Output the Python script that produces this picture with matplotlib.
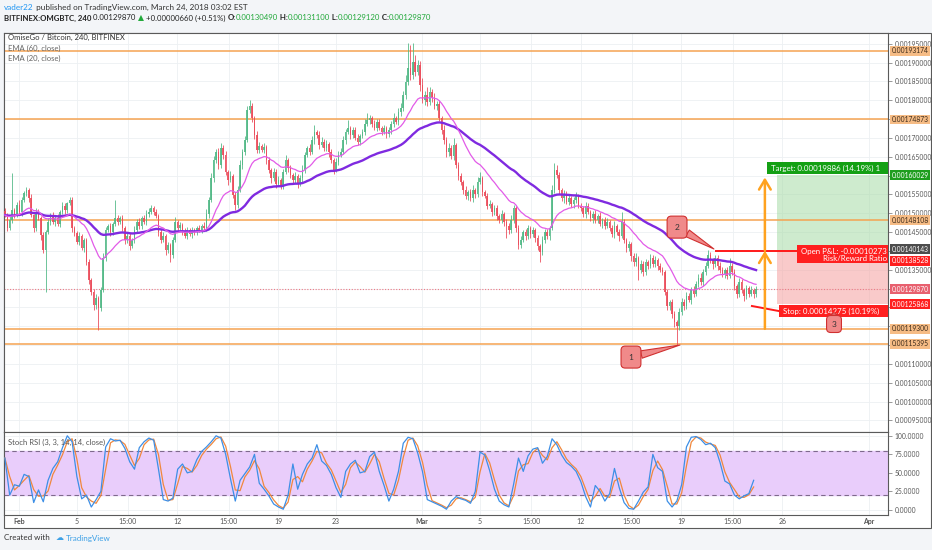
import numpy as np
import pandas as pd
import matplotlib
matplotlib.use("Agg")
import matplotlib.pyplot as plt
from matplotlib.patches import Rectangle

W, H = 932, 550
plt.rcParams['font.family'] = ['Lato', 'DejaVu Sans']

# ---- data (prices in 1e-6 BTC, 4h candles from Jan 31) ----
first_open = 1505
closes = [
    1495, 1461, 1482, 1508, 1498, 1522, 1503, 1535, 1554, 1562,
    1540, 1495, 1461, 1503, 1487, 1442, 1402, 1450, 1477, 1495,
    1477, 1487, 1471, 1503, 1519, 1508, 1527, 1535, 1461, 1447,
    1424, 1439, 1408, 1429, 1370, 1323, 1291, 1256, 1275, 1248,
    1296, 1381, 1455, 1466, 1450, 1471, 1487, 1477, 1487, 1461,
    1429, 1439, 1413, 1429, 1455, 1477, 1466, 1487, 1477, 1498,
    1503, 1514, 1503, 1493, 1450, 1429, 1439, 1402, 1416, 1389,
    1429, 1477, 1461, 1469, 1450, 1439, 1455, 1445, 1455, 1450,
    1461, 1455, 1466, 1461, 1498, 1535, 1593, 1641, 1662, 1628,
    1673, 1655, 1609, 1588, 1599, 1548, 1522, 1562, 1628, 1662,
    1694, 1774, 1785, 1753, 1708, 1668, 1678, 1668, 1676, 1641,
    1615, 1593, 1609, 1578, 1588, 1572, 1609, 1641, 1620, 1601,
    1588, 1599, 1578, 1593, 1615, 1655, 1673, 1662, 1694, 1716,
    1708, 1681, 1689, 1673, 1684, 1662, 1641, 1615, 1636, 1655,
    1662, 1694, 1716, 1726, 1708, 1721, 1700, 1689, 1705, 1716,
    1737, 1747, 1753, 1737, 1726, 1742, 1726, 1716, 1726, 1710,
    1721, 1737, 1753, 1742, 1769, 1779, 1814, 1848, 1886, 1867,
    1901, 1875, 1893, 1840, 1801, 1814, 1795, 1822, 1806, 1785,
    1790, 1753, 1721, 1694, 1662, 1673, 1652, 1681, 1628, 1599,
    1583, 1562, 1546, 1556, 1540, 1562, 1551, 1583, 1593, 1556,
    1546, 1519, 1524, 1503, 1514, 1493, 1482, 1498, 1477, 1466,
    1455, 1482, 1514, 1461, 1416, 1429, 1450, 1439, 1461, 1445,
    1455, 1434, 1413, 1397, 1429, 1450, 1439, 1461, 1562, 1615,
    1601, 1562, 1540, 1551, 1530, 1540, 1524, 1535, 1546, 1519,
    1514, 1498, 1519, 1503, 1487, 1498, 1482, 1493, 1471, 1482,
    1466, 1477, 1461, 1445, 1466, 1450, 1439, 1477, 1429, 1408,
    1418, 1386, 1370, 1381, 1349, 1365, 1344, 1370, 1360, 1381,
    1365, 1376, 1360, 1349, 1344, 1291, 1254, 1264, 1232, 1211,
    1200, 1238, 1264, 1254, 1280, 1270, 1296, 1285, 1312, 1328,
    1317, 1344, 1360, 1389, 1376, 1365, 1381, 1360, 1349, 1339,
    1349, 1333, 1360, 1344, 1307, 1285, 1317, 1296, 1280, 1301,
    1285, 1296, 1285, 1298.7,
]
upper_wick = [
    8, 5, 10, 99, 6, 9, 12, 7, 5, 8,
    6, 10, 4, 12, 7, 5, 9, 6, 11, 5,
    8, 6, 10, 5, 12, 7, 4, 8, 9, 6,
    5, 11, 7, 6, 4, 9, 5, 8, 10, 6,
    7, 12, 9, 5, 8, 6, 48, 7, 5, 9,
    6, 10, 8, 5, 12, 7, 9, 6, 8, 10,
    12, 7, 5, 9, 6, 8, 10, 5, 7, 6,
    9, 14, 6, 8, 5, 10, 7, 6, 9, 5,
    6, 8, 5, 10, 12, 9, 14, 11, 8, 10,
    13, 7, 9, 6, 12, 5, 8, 10, 14, 9,
    12, 10, 15, 8, 6, 9, 11, 7, 10, 5,
    8, 6, 12, 7, 10, 5, 9, 14, 6, 8,
    7, 10, 5, 9, 12, 8, 6, 11, 10, 18,
    6, 9, 12, 7, 10, 5, 8, 6, 11, 9,
    10, 12, 8, 21, 6, 9, 7, 10, 5, 8,
    12, 19, 8, 6, 10, 7, 9, 5, 8, 6,
    9, 7, 12, 6, 10, 14, 11, 18, 66, 60,
    51, 20, 15, 12, 18, 10, 22, 14, 9, 12,
    8, 10, 6, 12, 7, 14, 9, 18, 6, 8,
    7, 5, 9, 6, 8, 12, 6, 14, 16, 7,
    6, 8, 10, 5, 9, 7, 6, 10, 5, 8,
    7, 12, 9, 5, 8, 10, 6, 9, 7, 5,
    8, 6, 9, 5, 10, 7, 9, 6, 14, 18,
    12, 8, 6, 10, 7, 9, 5, 8, 10, 6,
    9, 6, 10, 7, 5, 8, 10, 6, 9, 5,
    7, 10, 6, 8, 12, 5, 9, 26, 7, 6,
    9, 6, 8, 12, 5, 10, 7, 9, 6, 11,
    8, 10, 6, 9, 7, 5, 8, 6, 9, 7,
    6, 9, 12, 8, 10, 7, 9, 11, 8, 10,
    12, 9, 10, 13, 8, 6, 9, 7, 10, 8,
    6, 9, 21, 8, 7, 5, 10, 8, 6, 9,
    7, 10, 6, 8,
]
lower_wick = [
    6, 9, 5, 8, 12, 7, 5, 10, 6, 8,
    9, 5, 10, 7, 6, 12, 8, 111, 6, 9,
    7, 10, 5, 8, 6, 9, 7, 5, 12, 8,
    6, 9, 7, 10, 8, 12, 9, 14, 10, 58,
    8, 6, 9, 5, 10, 7, 6, 8, 5, 9,
    10, 7, 12, 6, 8, 5, 9, 7, 6, 8,
    7, 5, 9, 6, 10, 8, 6, 12, 7, 19,
    8, 6, 10, 7, 9, 5, 8, 6, 10, 7,
    9, 6, 8, 5, 7, 10, 6, 9, 8, 12,
    7, 10, 8, 12, 6, 9, 14, 8, 6, 10,
    8, 6, 9, 12, 10, 7, 9, 6, 8, 11,
    9, 12, 7, 10, 6, 9, 8, 5, 10, 7,
    10, 8, 12, 6, 9, 7, 5, 8, 6, 9,
    8, 10, 6, 9, 7, 12, 8, 10, 6, 9,
    7, 6, 9, 5, 10, 8, 6, 9, 7, 5,
    8, 6, 10, 7, 5, 9, 6, 8, 7, 10,
    9, 12, 7, 6, 8, 10, 7, 12, 9, 14,
    10, 12, 8, 15, 9, 14, 10, 8, 12, 9,
    10, 8, 12, 9, 14, 10, 8, 12, 9, 10,
    8, 12, 9, 10, 7, 9, 12, 8, 6, 10,
    7, 9, 6, 10, 8, 12, 7, 9, 10, 32,
    9, 7, 8, 12, 10, 8, 6, 9, 7, 10,
    8, 10, 12, 27, 9, 7, 8, 10, 6, 9,
    7, 10, 8, 12, 6, 9, 7, 10, 8, 6,
    9, 7, 10, 6, 8, 12, 7, 9, 6, 10,
    8, 6, 9, 7, 10, 8, 12, 6, 9, 10,
    8, 12, 10, 9, 26, 8, 10, 7, 9, 6,
    8, 7, 10, 6, 9, 8, 12, 10, 9, 14,
    50, 10, 8, 12, 9, 7, 10, 8, 6, 9,
    7, 10, 8, 6, 9, 12, 7, 10, 8, 9,
    10, 8, 6, 9, 12, 10, 8, 9, 14, 7,
    8, 6, 10, 7,
]
# Stoch RSI %K, one value every 8 hours
stoch_k = [
    70, 20, 34, 32, 48, 45, 10, 27, 11, 40,
    56, 65, 84, 100, 92, 45, 15, 20, 4, 14,
    25, 85, 96, 93, 94, 83, 65, 55, 84, 92,
    97, 94, 55, 14, 12, 16, 55, 62, 50, 52,
    68, 79, 85, 92, 100, 97, 75, 42, 12, 40,
    49, 58, 75, 36, 28, 19, 8, 4, 1, 20,
    62, 28, 48, 62, 70, 88, 66, 60, 48, 30,
    17, 52, 62, 67, 50, 52, 72, 78, 52, 33,
    12, 28, 52, 90, 98, 96, 77, 52, 14, 11,
    8, 5, 1, 12, 18, 15, 13, 9, 25, 78,
    74, 53, 28, 12, 7, 4, 35, 70, 52, 73,
    82, 84, 63, 72, 96, 88, 74, 64, 59, 52,
    38, 18, 4, 33, 25, 12, 22, 56, 30, 10,
    2, 1, 12, 24, 31, 75, 57, 52, 12, 4,
    12, 34, 85, 98, 99, 95, 88, 90, 84, 64,
    39, 35, 20, 15, 19, 22, 40,
]

levels = [0.00193174, 0.00174873, 0.00148108, 0.00119300, 0.00115395]
last_price = 0.00129870
entry_price, target_price, stop_price = 0.00140143, 0.00160029, 0.00125868
open_pl_price = 0.00138528

date_ticks = [0, 4, 7.56, 11, 14.56, 18, 22, 28, 32, 35.56, 39, 42.56, 46, 49.56, 53, 59]
date_labels = ["Feb", "5", "15:00", "12", "15:00", "19", "23", "Mar", "5",
               "15:00", "12", "15:00", "19", "15:00", "26", "Apr"]

# ---- derived series ----
c = np.array(closes) * 1e-6
o = np.r_[first_open * 1e-6, c[:-1]]
hi = np.maximum(o, c) + np.array(upper_wick) * 1e-6
lo = np.minimum(o, c) - np.array(lower_wick) * 1e-6
t = -0.98 + np.arange(len(c)) / 6.0
ema60 = pd.Series(c).ewm(span=60, adjust=False).mean()
ema20 = pd.Series(c).ewm(span=20, adjust=False).mean()
k = pd.Series(stoch_k, dtype=float)
d = k.rolling(2, min_periods=1).mean()
tk = -0.98 + np.arange(len(k)) / 3.0

XMIN, XMAX = -1.042, 60.35
GREEN, RED = '#53b987', '#eb4d5c'

fig = plt.figure(figsize=(W / 100, H / 100), dpi=100, facecolor='#f3f5f8')
fig.add_artist(Rectangle((4 / W, 1 - 527.5 / H), 927 / W, 495 / H, transform=fig.transFigure,
                         fc='white', ec='#5a5a5a', lw=0.8, zorder=0))

ax = fig.add_axes([4 / W, 1 - 431.5 / H, 884 / W, 399 / H])
st = fig.add_axes([4 / W, 1 - 515 / H, 884 / W, 83.5 / H])

for a in (ax, st):
    a.set_facecolor('white')
    for s in a.spines.values():
        s.set_color('#5a5a5a')
        s.set_linewidth(0.8)
    a.set_xlim(XMIN, XMAX)
    a.set_xticks(date_ticks)
    a.grid(True, color='#edf0f3', lw=0.6)
    a.set_axisbelow(True)
    a.yaxis.tick_right()
    a.tick_params(axis='y', length=3, width=0.6, color='#888', pad=2, labelsize=4.9, labelcolor='#555')

# ---- main price panel ----
ax.set_ylim(0.0009204, 0.0019797)
tag_prices = levels + [target_price, entry_price, open_pl_price, last_price, stop_price]
yt = np.arange(0.00095, 0.0019501, 0.00005)
# gray scale labels hidden where a coloured price tag sits on top of them
ylabels = [f"{v:.8f}" if min(abs(v - p) for p in tag_prices) > 1.5e-5 else "" for v in yt]
ax.set_yticks(yt, ylabels)
ax.tick_params(axis='x', length=0, labelbottom=False)

for lv in levels:
    ax.axhline(lv, color='#f5a352', lw=1.1, zorder=2)
ax.axhline(last_price, color='#ec7a86', lw=0.8, ls=(0, (1, 1.5)), zorder=2)

up = c >= o
col = np.where(up, GREEN, RED)
ax.vlines(t, lo, hi, colors=col, lw=0.7, alpha=0.85, zorder=3)
ax.bar(t, np.maximum(np.abs(c - o), 1.5e-6), bottom=np.minimum(o, c), width=0.11,
       color=col, alpha=0.9, zorder=3)
ax.plot(t, ema60, color='#7f2ae0', lw=1.7, zorder=4)
ax.plot(t, ema20, color='#e25be8', lw=0.9, zorder=4)

# long position tool
ax.add_patch(Rectangle((52.64, entry_price), XMAX - 52.64, target_price - entry_price,
                       fc='#a6dca6', ec='none', alpha=0.55, zorder=1))
ax.add_patch(Rectangle((52.64, stop_price), XMAX - 52.64, entry_price - stop_price,
                       fc='#f5a0a0', ec='none', alpha=0.55, zorder=1))
ax.plot([48.4, 54.03], [0.001399, 0.001399], color='#ff1a1a', lw=1.4, zorder=5)
ax.plot([50.9, 52.8], [0.0012536, 0.001240], color='#ff1a1a', lw=1.4, zorder=5)
arrow = dict(arrowstyle='->,head_length=0.5,head_width=0.3', color='#ffa21f', lw=1.8,
             shrinkA=0, shrinkB=0, mutation_scale=14)
ax.annotate('', xy=(51.8, 0.0014), xytext=(51.8, 0.001193), arrowprops=arrow, zorder=6)
ax.annotate('', xy=(51.8, 0.001595), xytext=(51.8, 0.0014), arrowprops=arrow, zorder=6)

# labels of the position tool (cut at the price scale, as on TradingView)
ax.add_patch(Rectangle((51.94, 0.001604), XMAX - 51.94, 0.000032, fc='#14a014', ec='none', zorder=7))
ax.text(52.2, 0.00162, "Target: 0.00019886 (14.19%) 1", color='white', fontsize=5.7,
        va='center', ha='left', zorder=8, clip_on=True)
ax.add_patch(Rectangle((54.03, 0.0013677), XMAX - 54.03, 0.0000478, fc='#ff1f1f', ec='none', zorder=7))
ax.text(XMAX - 0.05, 0.0013977, "Open P&L: -0.00010273", color='white', fontsize=5.7,
        va='center', ha='right', zorder=8, clip_on=True)
ax.text(XMAX - 0.05, 0.0013797, "Risk/Reward Ratio", color='white', fontsize=5.7,
        va='center', ha='right', zorder=8, clip_on=True)
ax.add_patch(Rectangle((52.78, 0.0012252), XMAX - 52.78, 0.0000303, fc='#ff1f1f', ec='none', zorder=7))
ax.text(53.05, 0.0012403, "Stop: 0.00014275 (10.19%)", color='white', fontsize=5.7,
        va='center', ha='left', zorder=8, clip_on=True)

callout = dict(fc='#f08a8a', ec='#d03030', lw=0.8)
for label, tip, box, pad in [("1", (45.9, 0.00115), (42.5, 0.001118), 0.9),
                             ("2", (48.26, 0.001405), (45.7, 0.001463), 0.9),
                             ("3", (56.6, 0.001236), (56.6, 0.0012058), 0.6)]:
    ax.annotate(label, xy=tip, xytext=box, ha='center', va='center', fontsize=6, color='#333',
                zorder=9, bbox=dict(boxstyle=f'round,pad={pad},rounding_size=0.5', **callout),
                arrowprops=dict(arrowstyle='wedge,tail_width=0.9', shrinkA=0, shrinkB=0, **callout))

def price_tag(a, y, text, fc, tc, dy=0):
    # dy nudges a tag (in pixels) so that neighbouring tags stack like on TradingView
    a.annotate(text, xy=(1.004, y), xycoords=a.get_yaxis_transform(), xytext=(0, dy),
               textcoords='offset pixels', ha='left', va='center', fontsize=4.9,
               color=tc, annotation_clip=False, zorder=10,
               bbox=dict(boxstyle='square,pad=0.22', fc=fc, ec='none'))

for lv in levels:
    price_tag(ax, lv, f"{lv:.8f}", '#f6bc85', '#3b2a1a')
price_tag(ax, target_price, f"{target_price:.8f}", '#1e9e1e', 'white')
price_tag(ax, entry_price, f"{entry_price:.8f}", '#4d4d4d', 'white', dy=1)
price_tag(ax, open_pl_price, f"{open_pl_price:.8f}", '#ff1f1f', 'white', dy=-4.5)
price_tag(ax, last_price, f"{last_price:.8f}", '#e8606f', 'white')
price_tag(ax, stop_price, f"{stop_price:.8f}", '#ff1f1f', 'white')

# ---- stoch RSI panel ----
st.set_ylim(-6.8, 105.8)
st.set_yticks([0, 25, 50, 75, 100], [f"{v:.4f}" for v in [0, 25, 50, 75, 100]])
st.axhspan(20, 80, color='#e9cdfb', zorder=1)
for lv in (20, 80):
    st.axhline(lv, color='#7e6a8c', lw=0.8, ls=(0, (4, 3)), zorder=2)
st.plot(tk, d, color='#f0883e', lw=0.9, zorder=3)
st.plot(tk, k, color='#3d8fe6', lw=0.9, zorder=4)
st.set_xticks(date_ticks, date_labels)
st.tick_params(axis='x', length=0, pad=2.5, labelsize=5, labelcolor='#555')
for lab in st.get_xticklabels():
    if lab.get_text() in ("Feb", "Mar", "Apr"):
        lab.set_fontweight('bold')

# ---- texts ----
def ftext(x, y, s, **kw):
    return fig.text(x / W, 1 - y / H, s, va='center', ha='left', **kw)

renderer = fig.canvas.get_renderer()

def seq(parts, x, y, size):
    for s, color, weight in parts:
        tx = ftext(x, y, s, color=color, fontweight=weight, fontsize=size)
        x += tx.get_window_extent(renderer=renderer).width

seq([("vader22", '#2196f3', 'normal'),
     (" published on TradingView.com, March 24, 2018 03:02 EST", '#333333', 'normal')], 4, 7, 5.9)
G = '#21a83a'
seq([("BITFINEX:OMGBTC, 240", '#222222', 'bold'), (" 0.00129870 ", '#222222', 'normal'),
     ("▲", G, 'normal'), (" +0.00000660 (+0.51%) ", '#222222', 'normal'),
     ("O:", '#222222', 'bold'), ("0.00130490", G, 'normal'),
     (" H:", '#222222', 'bold'), ("0.00131100", G, 'normal'),
     (" L:", '#222222', 'bold'), ("0.00129120", G, 'normal'),
     (" C:", '#222222', 'bold'), ("0.00129870", G, 'normal')], 4, 18, 5.55)

ftext(8, 37.5, "OmiseGo / Bitcoin, 240, BITFINEX", fontsize=5.5, color='#333333')
ftext(8, 48.3, "EMA (60, close)", fontsize=5.5, color='#666666')
ftext(8, 58.3, "EMA (20, close)", fontsize=5.5, color='#666666')
ftext(8, 442.7, "Stoch RSI (3, 3, 14, 14, close)", fontsize=5.5, color='#555555')

seq([("Created with   ", '#333333', 'normal'), ("☁ ", '#3ca0e6', 'normal'),
     ("TradingView", '#3ca0e6', 'normal')], 4, 538, 5.8)

fig.savefig("out.png", dpi=100, facecolor=fig.get_facecolor())
